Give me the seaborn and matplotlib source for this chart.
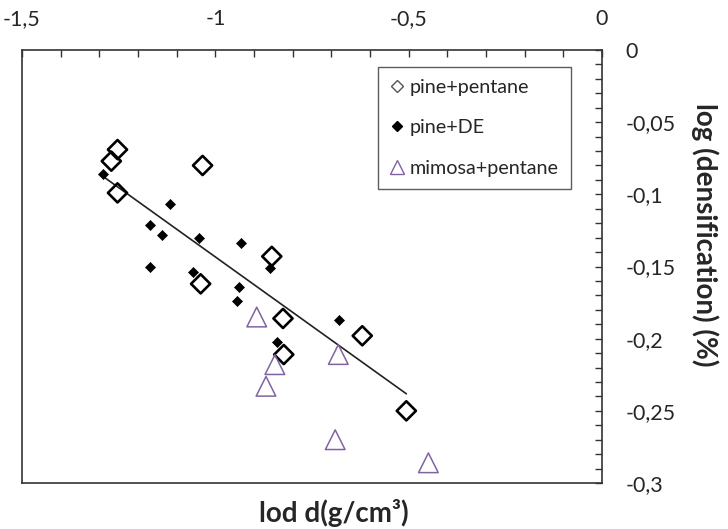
import numpy as np
import pandas as pd
import matplotlib
matplotlib.use('Agg')
import matplotlib.pyplot as plt
import seaborn as sns
from matplotlib.ticker import MultipleLocator, FuncFormatter
from matplotlib.lines import Line2D

# values
pine_pentane_x = [-1.253, -1.269, -1.253, -1.033, -0.854, -1.038, -0.825, -0.823, -0.620, -0.506]
pine_pentane_y = [-0.069, -0.077, -0.099, -0.080, -0.143, -0.162, -0.186, -0.211, -0.198, -0.250]

pine_de_x = [-1.290, -1.116, -1.170, -1.139, -1.043, -0.934, -0.859, -1.168, -1.059, -0.939, -0.945, -0.841, -0.680]
pine_de_y = [-0.086, -0.107, -0.121, -0.128, -0.130, -0.134, -0.151, -0.150, -0.154, -0.164, -0.174, -0.202, -0.187]

mimosa_x = [-0.893, -0.846, -0.869, -0.682, -0.690, -0.449]
mimosa_y = [-0.185, -0.218, -0.233, -0.211, -0.270, -0.286]

series_labels = ['pine+pentane', 'pine+DE', 'mimosa+pentane']
purple = '#8064A2'

sns.set_style('white')
plt.rcParams['font.family'] = ['Lato', 'DejaVu Sans']

fig = plt.figure(figsize=(7.28, 5.29), dpi=100)
ax = fig.add_axes([22 / 728, 1 - 483 / 529, 580 / 728, 433 / 529])

# trend line over all pine points
pine = pd.DataFrame({'x': pine_pentane_x + pine_de_x, 'y': pine_pentane_y + pine_de_y})
sns.regplot(data=pine, x='x', y='y', ax=ax, scatter=False, ci=None,
            line_kws={'color': '#222222', 'lw': 1.2})

sns.scatterplot(x=pine_pentane_x, y=pine_pentane_y, ax=ax, marker='D', s=95,
                facecolor='none', edgecolor='black', linewidth=1.9, zorder=3)
sns.scatterplot(x=pine_de_x, y=pine_de_y, ax=ax, marker='D', s=26,
                color='black', edgecolor='black', linewidth=0.5, zorder=3)
sns.scatterplot(x=mimosa_x, y=mimosa_y, ax=ax, marker='^', s=200,
                facecolor='none', edgecolor=purple, linewidth=1.1, zorder=3)

ax.set_xlim(-1.5, 0)
ax.set_ylim(-0.3, 0)

fmt = FuncFormatter(lambda v, p: '0' if abs(v) < 1e-9 else f'{v:g}'.replace('.', ','))
ax.xaxis.set_major_locator(MultipleLocator(0.5))
ax.xaxis.set_minor_locator(MultipleLocator(0.1))
ax.yaxis.set_major_locator(MultipleLocator(0.05))
ax.yaxis.set_minor_locator(MultipleLocator(0.01))
ax.xaxis.set_major_formatter(fmt)
ax.yaxis.set_major_formatter(fmt)

ax.xaxis.tick_top()
ax.yaxis.tick_right()
ax.tick_params(axis='both', which='both', direction='in', length=5, width=1, color='#333333')
ax.tick_params(axis='x', which='major', pad=15, labelsize=15.5)
ax.tick_params(axis='y', which='major', pad=17, labelsize=15.5)

for sp in ax.spines.values():
    sp.set_color('#333333')
    sp.set_linewidth(1.2)

ax.xaxis.set_label_position('bottom')
ax.set_xlabel('lod d(g/cm³)', fontsize=20, fontweight='bold')
ax.xaxis.set_label_coords(0.538, -0.036)
ax.yaxis.set_label_position('right')
ax.set_ylabel('log (densification) (%)', fontsize=20, fontweight='bold',
              rotation=270, va='center', ha='center')
ax.yaxis.set_label_coords(1.178, 0.573)

handles = [
    Line2D([], [], ls='none', marker='D', ms=6.5, mfc='none', mec='#555555', mew=1),
    Line2D([], [], ls='none', marker='D', ms=5.5, mfc='black', mec='black'),
    Line2D([], [], ls='none', marker='^', ms=10, mfc='none', mec=purple, mew=1),
]
leg = ax.legend(handles, series_labels, loc='upper left', bbox_to_anchor=(0.613, 0.961),
                fontsize=14.2, frameon=True, fancybox=False, labelspacing=1.2,
                handlelength=0.8, handletextpad=0.25, borderpad=0.6, borderaxespad=0)
leg.get_frame().set_edgecolor('#333333')
leg.get_frame().set_linewidth(1.0)

fig.savefig('out.png', dpi=100)
